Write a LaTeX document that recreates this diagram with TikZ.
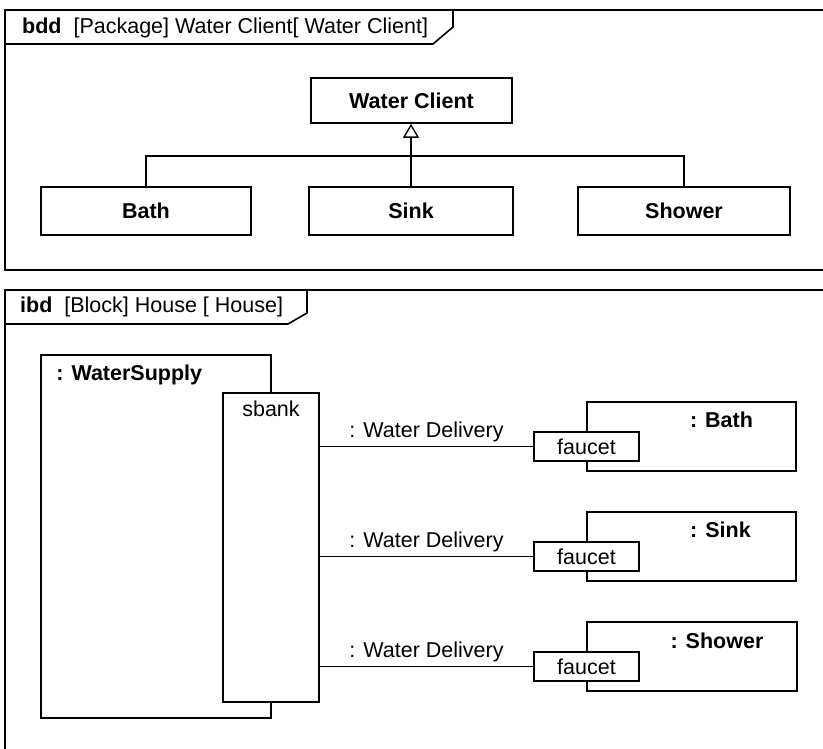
\documentclass[tikz,border=0pt]{standalone}
\usepackage{fontspec}
\setmainfont{Liberation Sans}
\usetikzlibrary{arrows.meta,positioning}

\begin{document}
\begin{tikzpicture}[
  x=1pt, y=-1pt,
  font=\fontsize{21.5}{25}\selectfont,
  frameline/.style={
    line width=1.6pt
  },
  framelabel/.style={
    anchor=west,
    inner sep=0pt
  },
  block/.style={
    draw,
    fill=white,
    line width=1.6pt,
    inner sep=0pt,
    font=\fontsize{21.5}{25}\selectfont\bfseries
  },
  part/.style={
    draw,
    fill=white,
    line width=1.6pt,
    inner sep=0pt
  },
  port/.style={
    draw,
    fill=white,
    line width=1.4pt,
    inner sep=0pt
  },
  partlabel/.style={
    inner sep=0pt,
    font=\fontsize{21.5}{25}\selectfont\bfseries
  },
  connector/.style={
    line width=1.3pt
  },
  linklabel/.style={
    above,
    inner sep=4pt
  }
]

  \clip (0,0) rectangle (823,749);

  % --- BDD FRAME: Water Client package ---
  \draw[frameline] (5,10) rectangle (840,270);
  \node[framelabel] (bddtitle) at (22,27.5) {\textbf{bdd}\ \ [Package] Water Client[ Water Client]};
  \draw[frameline] (5,44) -- (433,44) -- (453,27) -- (453,10);

  \node[block, minimum width=201pt, minimum height=45pt] (client) at (411.5,100.5) {Water Client};
  \node[block, minimum width=210pt, minimum height=48pt] (bath) at (146,211) {Bath};
  \node[block, minimum width=204pt, minimum height=48pt] (sink) at (411,211) {Sink};
  \node[block, minimum width=212pt, minimum height=48pt] (shower) at (684,211) {Shower};

  % generalization tree
  \coordinate (tree) at (411,156);
  \draw[connector] (bath.north) |- (tree) -| (shower.north);
  \draw[connector, -{Triangle[open, length=14pt, width=16pt]}] (sink.north) -- (sink.north |- client.south);

  % --- IBD FRAME: House block ---
  \draw[frameline] (5,290) rectangle (840,780);
  \node[framelabel] (ibdtitle) at (20,307) {\textbf{ibd}\ \ [Block] House [ House]};
  \draw[frameline] (5,324) -- (288,324) -- (307,313) -- (307,290);

  % water supply with its port
  \node[part, minimum width=230pt, minimum height=363pt] (supply) at (156,536.5) {};
  \node[partlabel, anchor=north west] (supplylabel) at ([xshift=16pt, yshift=-11pt]supply.north west) {: WaterSupply};
  \node[port, minimum width=96pt, minimum height=309pt] (sbank) at (271,547.5) {};
  \node[anchor=north, inner sep=0pt] (sbanklabel) at ([yshift=-8pt]sbank.north) {sbank};

  % --- Bath ---
  \node[part, minimum width=209pt, minimum height=69pt] (bathpart) at (691.5,436.5) {};
  \node[partlabel] (bathlabel) at (721.5,420) {: Bath};
  \node[port, minimum width=105pt, minimum height=29pt] (bathfaucet) at (586.5,446.5) {faucet};
  \draw[connector] (sbank.east |- bathfaucet) -- (bathfaucet.west)
    node[linklabel, midway] {: Water Delivery};

  % --- Sink ---
  \node[part, minimum width=209pt, minimum height=69pt] (sinkpart) at (691.5,546.5) {};
  \node[partlabel] (sinklabel) at (720.5,530) {: Sink};
  \node[port, minimum width=105pt, minimum height=29pt] (sinkfaucet) at (586.5,556.5) {faucet};
  \draw[connector] (sbank.east |- sinkfaucet) -- (sinkfaucet.west)
    node[linklabel, midway] {: Water Delivery};

  % --- Shower ---
  \node[part, minimum width=210pt, minimum height=69pt] (showerpart) at (692,656.5) {};
  \node[partlabel] (showerlabel) at (717,641) {: Shower};
  \node[port, minimum width=105pt, minimum height=29pt] (showerfaucet) at (586.5,666.5) {faucet};
  \draw[connector] (sbank.east |- showerfaucet) -- (showerfaucet.west)
    node[linklabel, midway] {: Water Delivery};

\end{tikzpicture}
\end{document}
